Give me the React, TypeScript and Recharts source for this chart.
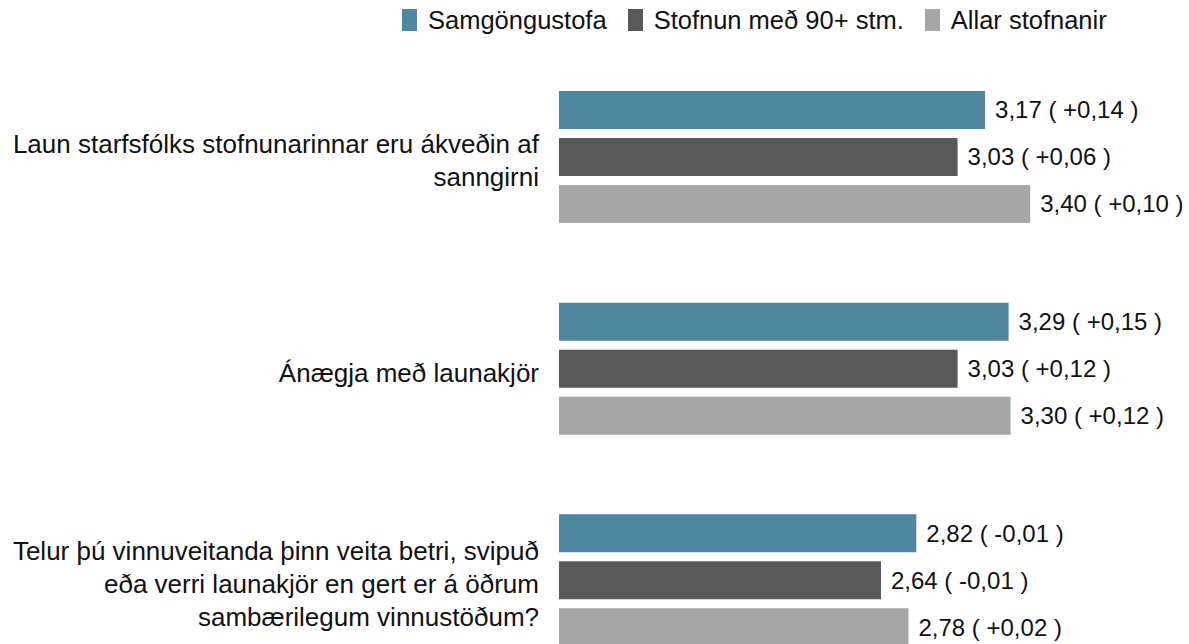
import { BarChart, Bar, XAxis, YAxis, Legend, LabelList } from "recharts";

const categories = [
  "Laun starfsfólks stofnunarinnar eru ákveðin af sanngirni",
  "Ánægja með launakjör",
  "Telur þú vinnuveitanda þinn veita betri, svipuð eða verri launakjör en gert er á öðrum sambærilegum vinnustöðum?",
];
const categoryLines = [
  ["Laun starfsfólks stofnunarinnar eru ákveðin af", "sanngirni"],
  ["Ánægja með launakjör"],
  ["Telur þú vinnuveitanda þinn veita betri, svipuð", "eða verri launakjör en gert er á öðrum", "sambærilegum vinnustöðum?"],
];

const seriesNames = ["Samgöngustofa", "Stofnun með 90+ stm.", "Allar stofnanir"];
const samgongustofa = [3.17, 3.29, 2.82];
const samgongustofaChange = [0.14, 0.15, -0.01];
const stofnun90 = [3.03, 3.03, 2.64];
const stofnun90Change = [0.06, 0.12, -0.01];
const allar = [3.4, 3.3, 2.78];
const allarChange = [0.1, 0.12, 0.02];

const colors = ["#4f87a1", "#595959", "#a6a6a6"];
const FONT = "'Liberation Sans', Arial, sans-serif";

const data = categories.map((name, i) => ({
  name,
  lines: categoryLines[i],
  s1: samgongustofa[i],
  s2: stofnun90[i],
  s3: allar[i],
}));
const changes = [samgongustofaChange, stofnun90Change, allarChange];

const fmt = (v: number) => v.toFixed(2).replace(".", ",");
const fmtChange = (v: number) => (v >= 0 ? "+" : "-") + Math.abs(v).toFixed(2).replace(".", ",");

function CategoryTick(props: any) {
  const { x, y, payload } = props;
  const lines: string[] = categoryLines[payload.index] ?? [payload.value];
  const lh = 33;
  const start = 4 - ((lines.length - 1) * lh) / 2;
  return (
    <text x={x} y={y} textAnchor="end" fontFamily={FONT} fontSize={26} fill="#111">
      {lines.map((l, i) => (
        <tspan key={i} x={x} y={y + start + i * lh} dy="0.35em">
          {l}
        </tspan>
      ))}
    </text>
  );
}

function makeLabel(series: number) {
  return (props: any) => {
    const { x, y, width, height, value, index } = props;
    return (
      <text
        x={x + width + 10}
        y={y + height / 2}
        dy="0.35em"
        fontFamily={FONT}
        fontSize={24}
        fill="#111"
      >
        {`${fmt(value)} ( ${fmtChange(changes[series][index])} )`}
      </text>
    );
  };
}

function LegendContent() {
  return (
    <div style={{ height: 40, display: "flex", alignItems: "center", paddingLeft: 402, fontFamily: FONT, fontSize: 25.5, color: "#111" }}>
      {seriesNames.map((n, i) => (
        <div key={n} style={{ display: "flex", alignItems: "center", marginRight: 21 }}>
          <span style={{ width: 15, height: 22, background: colors[i], display: "inline-block", marginRight: 11 }} />
          <span>{n}</span>
        </div>
      ))}
    </div>
  );
}

export default function App() {
  return (
    <div style={{ position: "fixed", top: 0, left: 0, width: 1189, height: 644, overflow: "hidden", background: "#fff" }}>
      <BarChart
        width={1189}
        height={686}
        data={data}
        layout="vertical"
        margin={{ top: 11, right: 41, bottom: 0, left: 0 }}
        barSize={38}
        barGap={9}
      >
        <XAxis type="number" domain={[1, 4]} hide />
        <YAxis
          type="category"
          dataKey="name"
          width={559}
          axisLine={false}
          tickLine={false}
          tick={<CategoryTick />}
          tickMargin={14}
          interval={0}
        />
        <Legend verticalAlign="top" content={<LegendContent />} wrapperStyle={{ top: 0, left: 0, width: 1189 }} />
        <Bar dataKey="s1" name={seriesNames[0]} fill={colors[0]} isAnimationActive={false}>
          <LabelList dataKey="s1" content={makeLabel(0)} />
        </Bar>
        <Bar dataKey="s2" name={seriesNames[1]} fill={colors[1]} isAnimationActive={false}>
          <LabelList dataKey="s2" content={makeLabel(1)} />
        </Bar>
        <Bar dataKey="s3" name={seriesNames[2]} fill={colors[2]} isAnimationActive={false}>
          <LabelList dataKey="s3" content={makeLabel(2)} />
        </Bar>
      </BarChart>
    </div>
  );
}
